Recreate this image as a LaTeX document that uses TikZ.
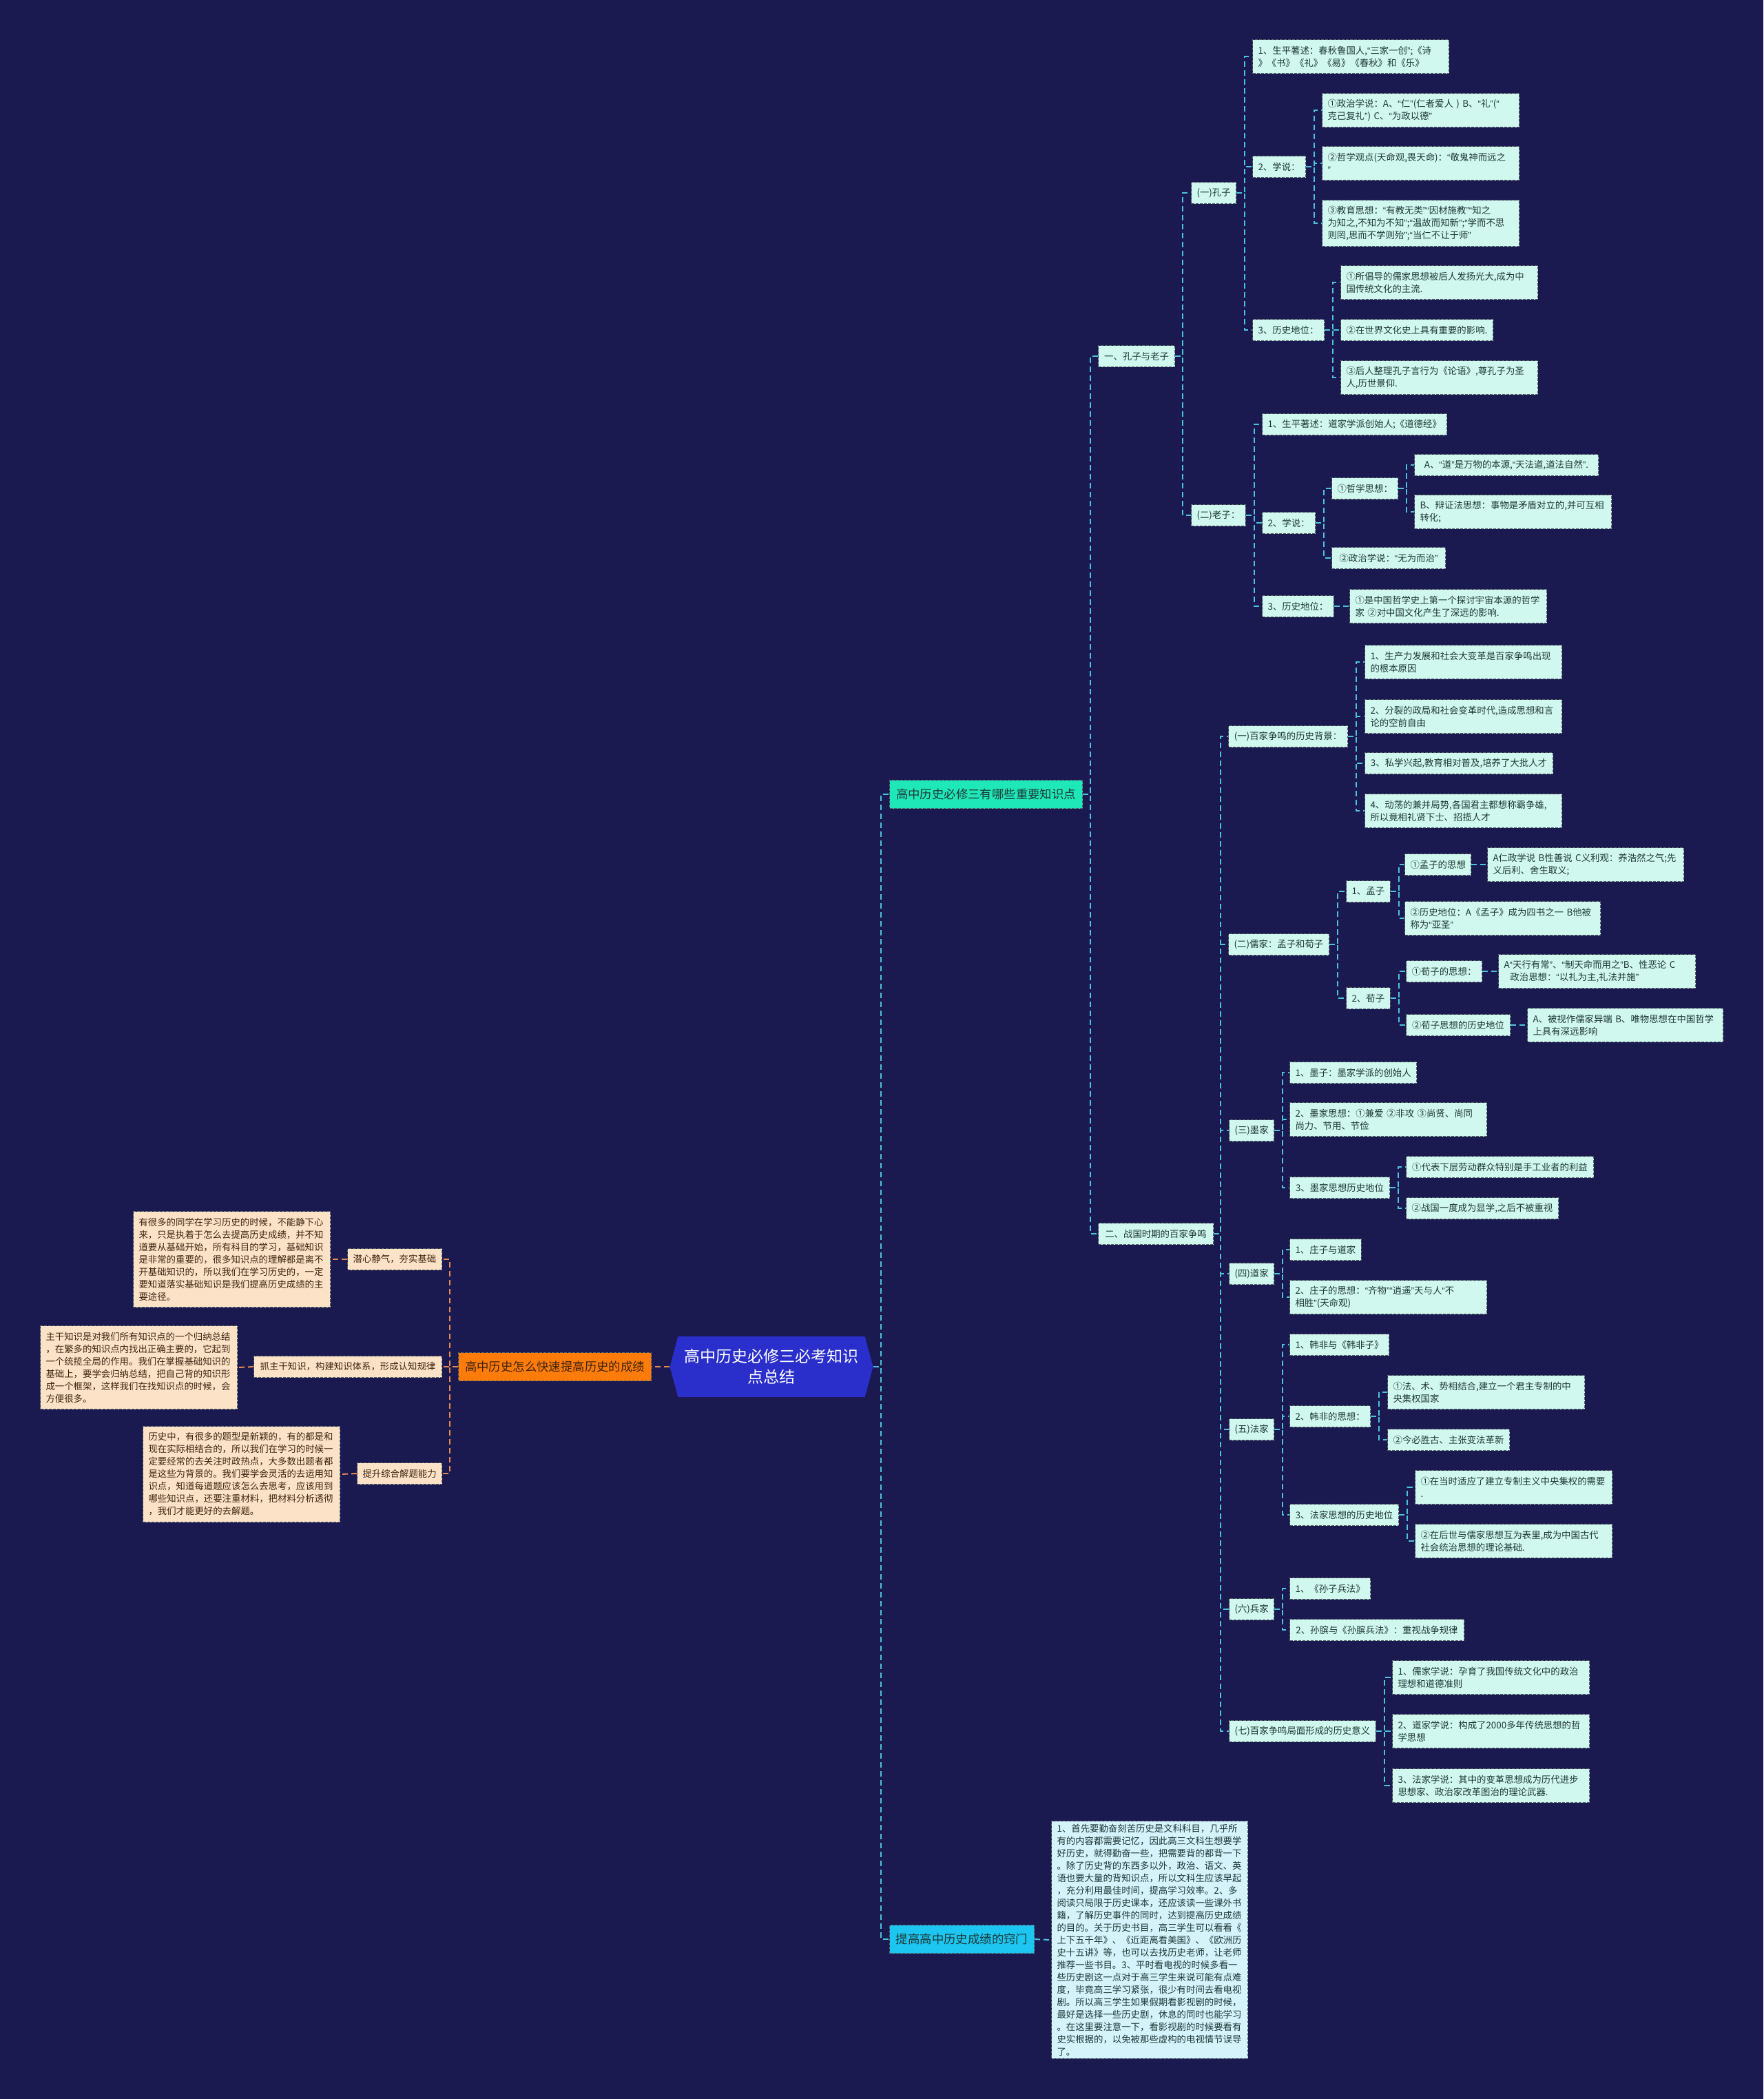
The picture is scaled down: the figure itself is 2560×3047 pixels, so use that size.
\documentclass[tikz,border=0pt]{standalone}
\usepackage{fontspec}
\setmainfont{Noto Sans CJK SC}
\newfontfamily\qfont{Liberation Sans}
\catcode`“=\active
\def“{{\qfont\char"201C}}
\catcode`”=\active
\def”{{\qfont\char"201D}}
\usetikzlibrary{shapes.symbols}
\definecolor{bgnavy}{HTML}{1A1950}
\definecolor{mint}{HTML}{D0F8EE}
\definecolor{skyleaf}{HTML}{D4F3FB}
\definecolor{peachfill}{HTML}{FCE3C8}
\definecolor{leaftext}{HTML}{1F3838}
\definecolor{peachtext}{HTML}{3D2510}
\definecolor{edgegray}{HTML}{58666A}
\definecolor{rootblue}{HTML}{2A2FCB}
\definecolor{orangemain}{HTML}{FF7B0A}
\definecolor{greenmain}{HTML}{1FE8B8}
\definecolor{cyanmain}{HTML}{1CC6F0}
\definecolor{linecyan}{HTML}{4CC3DE}
\definecolor{lineorange}{HTML}{E58A4E}
\begin{document}
\begin{tikzpicture}[x=0.5pt, y=-0.5pt,
  every node/.style={font=\fontsize{6.7}{9}\selectfont, inner xsep=4pt, inner ysep=2pt},
  box/.style={draw=edgegray, dash pattern=on 2pt off 1pt, line width=0.5pt, anchor=west},
  leaf/.style={box, fill=mint, text=leaftext, minimum height=15.5pt},
  para/.style={leaf, align=left},
  nl/.style={minimum height={#1*9pt+6.5pt}},
  peach/.style={fill=peachfill, text=peachtext},
  main/.style={box, font=\fontsize{8.7}{11}\selectfont, minimum height=20.5pt},
  root/.style={signal, signal to=west and east, signal pointer angle=150, fill=rootblue,
    text=white, align=center, font=\fontsize{11.5}{15}\selectfont,
    minimum width=147.5pt, minimum height=44pt},
  rline/.style={draw=linecyan, line width=1pt, dash pattern=on 4pt off 2.5pt},
  oline/.style={rline, draw=lineorange}]

% 背景
\fill[bgnavy] (0,0) rectangle (2560,3047);
\useasboundingbox (0,0) rectangle (2560,3047);

% 中心主题
\node[root] (root) at (1120,1984) {高中历史必修三必考知识\\点总结};

% 左侧：提高成绩
\node[main, fill=orangemain, text=peachtext, minimum width=140pt] (org) at (665,1984) {高中历史怎么快速提高历史的成绩};
\node[leaf, peach, minimum width=68.5pt] (a1) at (504,1828) {潜心静气，夯实基础};
\node[leaf, peach, minimum width=136.5pt] (a2) at (368,1984) {抓主干知识，构建知识体系，形成认知规律};
\node[leaf, peach, minimum width=61.5pt] (a3) at (518,2139) {提升综合解题能力};
\node[para, peach, nl=7, text width=135pt] (a1t) at (193,1828) {有很多的同学在学习历史的时候，不能静下心\\来，只是执着于怎么去提高历史成绩，并不知\\道要从基础开始，所有科目的学习，基础知识\\是非常的重要的，很多知识点的理解都是离不\\开基础知识的，所以我们在学习历史的，一定\\要知道落实基础知识是我们提高历史成绩的主\\要途径。};
\node[para, peach, nl=6, text width=135pt] (a2t) at (58,1985) {主干知识是对我们所有知识点的一个归纳总结\\，在繁多的知识点内找出正确主要的，它起到\\一个统揽全局的作用。我们在掌握基础知识的\\基础上，要学会归纳总结，把自己背的知识形\\成一个框架，这样我们在找知识点的时候，会\\方便很多。};
\node[para, peach, nl=7, text width=135pt] (a3t) at (207,2140) {历史中，有很多的题型是新颖的，有的都是和\\现在实际相结合的，所以我们在学习的时候一\\定要经常的去关注时政热点，大多数出题者都\\是这些为背景的。我们要学会灵活的去运用知\\识点，知道每道题应该怎么去思考，应该用到\\哪些知识点，还要注重材料，把材料分析透彻\\，我们才能更好的去解题。};

% 右侧两大分支
\node[main, fill=greenmain, text=leaftext, minimum width=140pt] (g1) at (1291,1153) {高中历史必修三有哪些重要知识点};
\node[main, fill=cyanmain, text=leaftext, minimum width=105pt] (c1) at (1291,2815) {提高高中历史成绩的窍门};
\node[para, fill=skyleaf, text width=134.5pt] (c1t) at (1526,2816) {1、首先要勤奋刻苦历史是文科科目，几乎所\\有的内容都需要记忆，因此高三文科生想要学\\好历史，就得勤奋一些，把需要背的都背一下\\。除了历史背的东西多以外，政治、语文、英\\语也要大量的背知识点，所以文科生应该早起\\，充分利用最佳时间，提高学习效率。2、多\\阅读只局限于历史课本，还应该读一些课外书\\籍，了解历史事件的同时，达到提高历史成绩\\的目的。关于历史书目，高三学生可以看看《\\上下五千年》、《近距离看美国》、《欧洲历\\史十五讲》等，也可以去找历史老师，让老师\\推荐一些书目。3、平时看电视的时候多看一\\些历史剧这一点对于高三学生来说可能有点难\\度，毕竟高三学习紧张，很少有时间去看电视\\剧。所以高三学生如果假期看影视剧的时候，\\最好是选择一些历史剧，休息的同时也能学习\\。在这里要注意一下，看影视剧的时候要看有\\史实根据的，以免被那些虚构的电视情节误导\\了。};

% 一、孔子与老子
\node[leaf, minimum width=55.5pt] (kl) at (1594,517) {一、孔子与老子};
\node[leaf, minimum width=31.5pt] (kz) at (1729,280) {(一)孔子};
\node[para, nl=2, text width=134.5pt] (k1) at (1818,82) {1、生平著述：春秋鲁国人,“三家一创”;《诗\\》《书》《礼》《易》《春秋》和《乐》};
\node[leaf, minimum width=38pt] (k2) at (1818,242) {2、学说：};
\node[para, nl=2, text width=135pt] (k21) at (1919,160) {①政治学说：A、“仁”(仁者爱人 ) B、“礼”(“\\克己复礼”) C、“为政以德”};
\node[para, nl=2, text width=135pt] (k22) at (1919,237) {②哲学观点(天命观,畏天命)：“敬鬼神而远之\\”};
\node[para, nl=3, text width=135pt] (k23) at (1919,324) {③教育思想：“有教无类”“因材施教”“知之\\为知之,不知为不知”;“温故而知新”;“学而不思\\则罔,思而不学则殆”;“当仁不让于师”};
\node[leaf, minimum width=52pt] (k3) at (1818,479) {3、历史地位：};
\node[para, nl=2, text width=135pt] (k31) at (1946,410) {①所倡导的儒家思想被后人发扬光大,成为中\\国传统文化的主流.};
\node[leaf, minimum width=110.5pt] (k32) at (1946,479) {②在世界文化史上具有重要的影响.};
\node[para, nl=2, text width=135pt] (k33) at (1946,548) {③后人整理孔子言行为《论语》,尊孔子为圣\\人,历世景仰.};

\node[leaf, minimum width=39pt] (lz) at (1729,748) {(二)老子：};
\node[leaf, minimum width=133pt] (l1) at (1832,616) {1、生平著述：道家学派创始人;《道德经》};
\node[leaf, minimum width=37.5pt] (l2) at (1832,759) {2、学说：};
\node[leaf, minimum width=47.5pt] (l21) at (1933,709) {①哲学思想：};
\node[leaf, minimum width=133.5pt] (l21a) at (2053,675) {A、“道”是万物的本源,“天法道,道法自然”.};
\node[para, nl=2, text width=135pt] (l21b) at (2053,743) {B、辩证法思想：事物是矛盾对立的,并可互相\\转化;};
\node[leaf, minimum width=82.5pt] (l22) at (1933,810) {②政治学说：“无为而治”};
\node[leaf, minimum width=51.5pt] (l3) at (1832,880) {3、历史地位：};
\node[para, nl=2, text width=135pt] (l31) at (1959,880) {①是中国哲学史上第一个探讨宇宙本源的哲学\\家 ②对中国文化产生了深远的影响.};

% 二、战国时期的百家争鸣
\node[leaf, minimum width=83.5pt] (bz) at (1594,1791) {二、战国时期的百家争鸣};
\node[leaf, minimum width=86.5pt] (b1) at (1783,1069) {(一)百家争鸣的历史背景：};
\node[para, nl=2, text width=135pt] (b11) at (1981,961) {1、生产力发展和社会大变革是百家争鸣出现\\的根本原因};
\node[para, nl=2, text width=135pt] (b12) at (1981,1040) {2、分裂的政局和社会变革时代,造成思想和言\\论的空前自由};
\node[leaf, minimum width=136.5pt] (b13) at (1981,1108) {3、私学兴起,教育相对普及,培养了大批人才};
\node[para, nl=2, text width=135pt] (b14) at (1981,1177) {4、动荡的兼并局势,各国君主都想称霸争雄,\\所以竟相礼贤下士、招揽人才};

\node[leaf, minimum width=73pt] (b2) at (1783,1371) {(二)儒家：孟子和荀子};
\node[leaf, minimum width=30pt] (b21) at (1954,1294) {1、孟子};
\node[leaf, minimum width=47.5pt] (b211) at (2039,1255) {①孟子的思想};
\node[para, nl=2, text width=134.5pt] (b211a) at (2159,1255) {A仁政学说 B性善说 C义利观：养浩然之气;先\\义后利、舍生取义;};
\node[para, nl=2, text width=134pt] (b212) at (2039,1333) {②历史地位：A《孟子》成为四书之一 B他被\\称为“亚圣”};
\node[leaf, minimum width=31pt] (b22) at (1954,1449) {2、荀子};
\node[leaf, minimum width=55pt] (b221) at (2041,1410) {①荀子的思想：};
\node[para, nl=2, text width=135pt] (b221a) at (2175,1410) {A“天行有常”、“制天命而用之”B、性恶论 C\\\ \ 政治思想：“以礼为主,礼法并施”};
\node[leaf, minimum width=75.5pt] (b222) at (2041,1488) {②荀子思想的历史地位};
\node[para, nl=2, text width=134pt] (b222a) at (2217,1488) {A、被视作儒家异端 B、唯物思想在中国哲学\\上具有深远影响};

\node[leaf, minimum width=31.5pt] (b3) at (1784,1641) {(三)墨家};
\node[leaf, minimum width=91pt] (b31) at (1872,1557) {1、墨子：墨家学派的创始人};
\node[para, nl=2, text width=135pt] (b32) at (1872,1625) {2、墨家思想：①兼爱 ②非攻 ③尚贤、尚同\\尚力、节用、节俭};
\node[leaf, minimum width=72.5pt] (b33) at (1872,1724) {3、墨家思想历史地位};
\node[leaf, minimum width=136pt] (b331) at (2041,1694) {①代表下层劳动群众特别是手工业者的利益};
\node[leaf, minimum width=110.5pt] (b332) at (2041,1754) {②战国一度成为显学,之后不被重视};

\node[leaf, minimum width=31.5pt] (b4) at (1784,1849) {(四)道家};
\node[leaf, minimum width=50.5pt] (b41) at (1872,1814) {1、庄子与道家};
\node[para, nl=2, text width=135pt] (b42) at (1872,1883) {2、庄子的思想：“齐物”“逍遥”天与人“不\\相胜”(天命观)};

\node[leaf, minimum width=31.5pt] (b5) at (1784,2075) {(五)法家};
\node[leaf, minimum width=70.5pt] (b51) at (1872,1952) {1、韩非与《韩非子》};
\node[leaf, minimum width=58.5pt] (b52) at (1872,2056) {2、韩非的思想：};
\node[para, nl=2, text width=135pt] (b521) at (2014,2021) {①法、术、势相结合,建立一个君主专制的中\\央集权国家};
\node[leaf, minimum width=88.5pt] (b522) at (2014,2090) {②今必胜古、主张变法革新};
\node[leaf, minimum width=79pt] (b53) at (1872,2199) {3、法家思想的历史地位};
\node[para, nl=2, text width=135pt] (b531) at (2054,2159) {①在当时适应了建立专制主义中央集权的需要\\.};
\node[para, nl=2, text width=135pt] (b532) at (2054,2237) {②在后世与儒家思想互为表里,成为中国古代\\社会统治思想的理论基础.};

\node[leaf, minimum width=31.5pt] (b6) at (1784,2336) {(六)兵家};
\node[leaf, minimum width=57.5pt] (b61) at (1872,2306) {1、《孙子兵法》};
\node[leaf, minimum width=126.5pt] (b62) at (1872,2366) {2、孙膑与《孙膑兵法》：重视战争规律};

\node[leaf, minimum width=106pt] (b7) at (1784,2513) {(七)百家争鸣局面形成的历史意义};
\node[para, nl=2, text width=135pt] (b71) at (2021,2435) {1、儒家学说：孕育了我国传统文化中的政治\\理想和道德准则};
\node[para, nl=2, text width=135pt] (b72) at (2021,2513) {2、道家学说：构成了2000多年传统思想的哲\\学思想};
\node[para, nl=2, text width=135pt] (b73) at (2021,2592) {3、法家学说：其中的变革思想成为历代进步\\思想家、政治家改革图治的理论武器.};

% 连线：左侧
\draw[oline] (root.west) -- (org.east);
\foreach \c in {a1,a2,a3} \draw[oline] (org.west) -- ++(-12,0) |- (\c.east);
\draw[oline] (a1.west) -- (a1t.east);
\draw[oline] (a2.west) -- (a2t.east);
\draw[oline] (a3.west) -- (a3t.east);

% 连线：右侧
\foreach \c in {g1,c1} \draw[rline] (root.east) -- ++(11,0) |- (\c.west);
\draw[rline] (c1.east) -- (c1t.west);
\foreach \c in {kl,bz} \draw[rline] (g1.east) -- ++(11,0) |- (\c.west);
\foreach \c in {kz,lz} \draw[rline] (kl.east) -- ++(11,0) |- (\c.west);
\foreach \c in {k1,k2,k3} \draw[rline] (kz.east) -- ++(12,0) |- (\c.west);
\foreach \c in {k21,k22,k23} \draw[rline] (k2.east) -- ++(12,0) |- (\c.west);
\foreach \c in {k31,k32,k33} \draw[rline] (k3.east) -- ++(12,0) |- (\c.west);
\foreach \c in {l1,l2,l3} \draw[rline] (lz.east) -- ++(12,0) |- (\c.west);
\foreach \c in {l21,l22} \draw[rline] (l2.east) -- ++(12,0) |- (\c.west);
\foreach \c in {l21a,l21b} \draw[rline] (l21.east) -- ++(12,0) |- (\c.west);
\draw[rline] (l3.east) -- (l31.west);
\foreach \c in {b1,b2,b3,b4,b5,b6,b7} \draw[rline] (bz.east) -- ++(10,0) |- (\c.west);
\foreach \c in {b11,b12,b13,b14} \draw[rline] (b1.east) -- ++(12,0) |- (\c.west);
\foreach \c in {b21,b22} \draw[rline] (b2.east) -- ++(12,0) |- (\c.west);
\foreach \c in {b211,b212} \draw[rline] (b21.east) -- ++(12,0) |- (\c.west);
\draw[rline] (b211.east) -- (b211a.west);
\foreach \c in {b221,b222} \draw[rline] (b22.east) -- ++(12,0) |- (\c.west);
\draw[rline] (b221.east) -- (b221a.west);
\draw[rline] (b222.east) -- (b222a.west);
\foreach \c in {b31,b32,b33} \draw[rline] (b3.east) -- ++(12,0) |- (\c.west);
\foreach \c in {b331,b332} \draw[rline] (b33.east) -- ++(12,0) |- (\c.west);
\foreach \c in {b41,b42} \draw[rline] (b4.east) -- ++(12,0) |- (\c.west);
\foreach \c in {b51,b52,b53} \draw[rline] (b5.east) -- ++(12,0) |- (\c.west);
\foreach \c in {b521,b522} \draw[rline] (b52.east) -- ++(12,0) |- (\c.west);
\foreach \c in {b531,b532} \draw[rline] (b53.east) -- ++(12,0) |- (\c.west);
\foreach \c in {b61,b62} \draw[rline] (b6.east) -- ++(12,0) |- (\c.west);
\foreach \c in {b71,b72,b73} \draw[rline] (b7.east) -- ++(12,0) |- (\c.west);
\end{tikzpicture}
\end{document}
